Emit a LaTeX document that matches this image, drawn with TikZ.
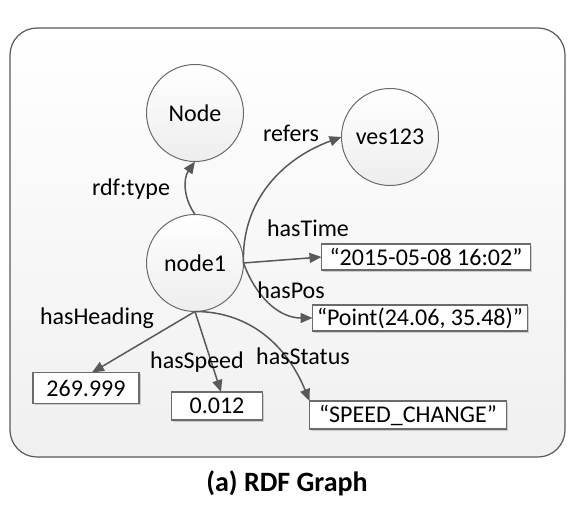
\documentclass[tikz,border=0pt]{standalone}
\usepackage{fontspec}
\setmainfont{Carlito}
\usetikzlibrary{arrows.meta,shadows}
\definecolor{linegray}{HTML}{595959}
\definecolor{rimgray}{HTML}{6B6B6B}
\tikzset{
  res/.style={circle, draw=rimgray, line width=1pt, minimum size=97pt, inner sep=0pt, outer sep=0pt,
    top color=white, bottom color=black!7, font=\fontsize{24}{28}\selectfont},
  lit/.style={rectangle, draw=rimgray, line width=1.2pt, fill=white, minimum width=#1, minimum height=27pt,
    inner sep=0pt, outer sep=0pt, font=\fontsize{24}{28}\selectfont,
    drop shadow={shadow xshift=1.5pt, shadow yshift=-1.5pt, fill=black!30, opacity=0.6}},
  rel/.style={-{Triangle[length=12pt,width=10pt]}, draw=linegray, fill=none, line width=1.5pt},
  lab/.style={inner sep=0pt, font=\fontsize{24}{28}\selectfont}
}
\begin{document}
\begin{tikzpicture}[x=1pt,y=1pt]
  \useasboundingbox (0,0) rectangle (572,512);
  %%%%% frame %%%%%
  \draw[rounded corners=27pt, draw=linegray, line width=1.2pt, top color=white, bottom color=black!6]
    (10,484) rectangle (565,55);

  %%%%% resources %%%%%
  \node[res] (type)   at (195,399) {Node};
  \node[res] (ves)    at (390,375) {ves123};
  \node[res] (node1)  at (195,249) {node1};

  %%%%% literals %%%%%
  \node[lit=209pt, minimum height=26pt] (time)    at (426,255) {``2015-05-08 16:02''};
  \node[lit=215pt, minimum height=26pt] (pos)     at (420,194) {``Point(24.06, 35.48)''};
  \node[lit=197pt, minimum height=28pt] (status)  at (408,97)  {``SPEED\_CHANGE''};
  \node[lit=106pt, minimum height=31pt] (heading) at (86,124)  {269.999};
  \node[lit=91pt,  minimum height=28pt] (speed)   at (217,106) {0.012};

  %%%%% edges %%%%%
  \draw[rel] (node1.north) to[bend left=35] (type.south);
  \draw[rel] (node1.east) to[out=92, in=200] (ves.west);
  \draw[rel] (node1.east) -- (time.west);
  \draw[rel] (node1.east) to[out=-70, in=180] (pos.west);
  \draw[rel] (node1.south) -- ([xshift=6pt]heading.north);
  \draw[rel] (node1.south) -- ([xshift=4pt]speed.north);
  \draw[rel] (node1.south) to[out=0, in=112] (status.north west);

  %%%%% edge labels %%%%%
  \node[lab] (ltype)    at (131,323) {rdf:type};
  \node[lab] (lrefers)  at (291,379) {refers};
  \node[lab] (ltime)    at (308,284) {hasTime};
  \node[lab] (lpos)     at (291,222) {hasPos};
  \node[lab] (lheading) at (97,194)  {hasHeading};
  \node[lab] (lspeed)   at (197,150) {hasSpeed};
  \node[lab] (lstatus)  at (303,156) {hasStatus};

  %%%%% caption %%%%%
  \node[inner sep=0pt, font=\fontsize{28}{33}\selectfont\bfseries] (cap) at (287,29) {(a) RDF Graph};
\end{tikzpicture}
\end{document}
